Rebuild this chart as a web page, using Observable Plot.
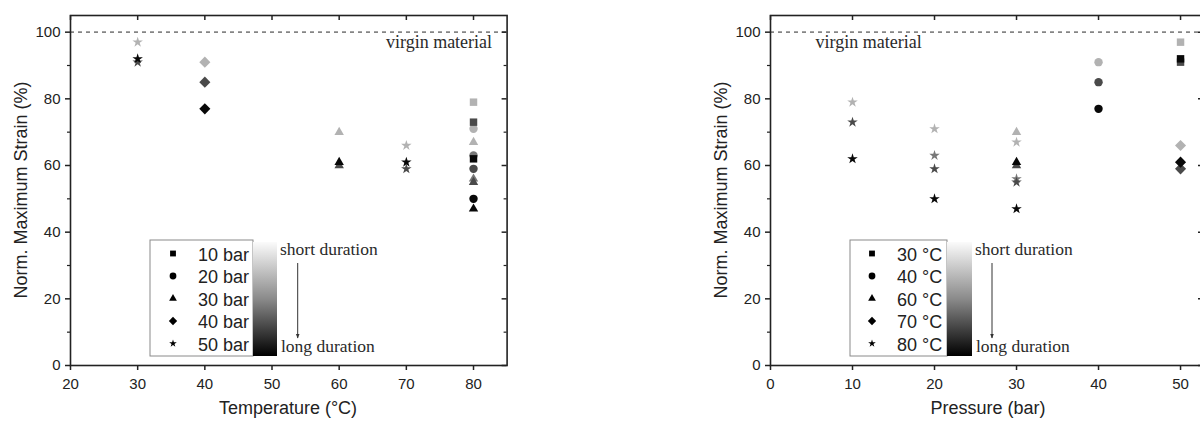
<!DOCTYPE html>
<html><head><meta charset="utf-8">
<script src="https://cdn.jsdelivr.net/npm/d3@7"></script>
<script src="https://cdn.jsdelivr.net/npm/@observablehq/plot@0.6"></script>
<style>
html,body{margin:0;padding:0;background:#fff;overflow:hidden;}
#wrap{position:relative;width:1200px;height:422px;overflow:hidden;background:#fff;}
.panel{position:absolute;top:0;}
#overlay{position:absolute;left:0;top:0;pointer-events:none;}
</style></head><body><div id="wrap"></div>
<script>
// ---- data (one row per specimen) ----
const temperature = [30,30,30, 40,40,40, 60,60,60, 70,70,70, 80,80,80, 80,80,80,80, 80,80,80,80];
const pressure    = [50,50,50, 40,40,40, 30,30,30, 50,50,50, 10,10,10, 20,20,20,20, 30,30,30,30];
const strain      = [97,92,91, 91,85,77, 70,61,60, 66,61,59, 79,73,62, 71,63,59,50, 67,56,55,47];
const duration    = [0,3,2,    0,2,3,    0,3,2,    0,3,2,    0,2,3,    0,1,2,3,     0,1,2,3];

// ---- categories / ticks ----
const pressureLevels = [10,20,30,40,50];
const pressureLabels = ["10 bar","20 bar","30 bar","40 bar","50 bar"];
const temperatureLevels = [30,40,60,70,80];
const temperatureLabels = ["30 °C","40 °C","60 °C","70 °C","80 °C"];
const symbolNames = ["square","circle","triangle","diamond2","star"];
const durationLevels = [0,1,2,3];
const durationGrays = ["#b2b2b2","#787878","#4a4a4a","#080808"];
const yMajor = [0,20,40,60,80,100];
const yMinor = [10,30,50,70,90];
const tempTicks = [20,30,40,50,60,70,80];
const presTicks = [0,10,20,30,40,50];

// marker styling (not data)
const symbolRadius = {square: 4.2, circle: 4.2, triangle: 3.5, diamond2: 5.0, star: 3.3};
const legendSymbolSize = {square: 34, circle: 36, triangle: 26, diamond2: 44, star: 18};

const rows = temperature.map((t,i)=>({T:t, P:pressure[i], S:strain[i], D:duration[i]}))
  .sort((a,b)=>a.D-b.D);

const wrap = document.getElementById("wrap");
const SANS = "'Liberation Sans', Arial, sans-serif";
const SERIF = "'Liberation Serif', 'Times New Roman', serif";
const INK = "#222";

function makePanel(o){
  const H = 422, mT = 15, mB = 57, mL = 70;
  const innerW = o.width - mL - o.marginRight, innerH = H - mT - mB;
  const symOf = v => symbolNames[o.symDomain.indexOf(v)];
  const chart = Plot.plot({
    width: o.width, height: H,
    marginLeft: mL, marginRight: o.marginRight, marginTop: mT, marginBottom: mB,
    style: {fontFamily: SANS, fontSize: "15px", color: INK, background: "transparent", overflow: "visible"},
    x: {domain: o.xDomain, label: null},
    y: {domain: [0,105], label: null},
    r: {type: "identity"},
    symbol: {domain: o.symDomain, range: symbolNames},
    color: {type: "ordinal", domain: durationLevels, range: durationGrays},
    marks: [
      Plot.ruleY([100], {stroke: "#858585", strokeWidth: 1.6, strokeDasharray: "4,4"}),
      Plot.text(["virgin material"], {x: o.virginX, y: 100, text: d=>d, textAnchor: o.virginAnchor,
        dx: o.virginDx, dy: 10, fontFamily: SERIF, fontSize: 18, fill: "#2a2a2a"}),
      Plot.dot(rows, {x: o.xKey, y: "S", symbol: o.symKey, fill: "D",
        r: d => symbolRadius[symOf(d[o.symKey])], stroke: "none"}),
      Plot.axisX({ticks: o.xTicks, tickSize: 5, tickPadding: 8, label: null, stroke: INK, strokeWidth: 1.5, fill: INK}),
      Plot.axisY({ticks: yMajor, tickSize: 5, tickPadding: 5, label: null, stroke: INK, strokeWidth: 1.5, fill: INK}),
      Plot.axisY({ticks: yMinor, tickSize: 3, tickFormat: () => "", label: null, stroke: INK, strokeWidth: 1.2}),
      Plot.tickY(yMajor, {y: d=>d, insetLeft: innerW - 5, stroke: INK, strokeWidth: 1.5}),
      Plot.tickY(yMinor, {y: d=>d, insetLeft: innerW - 3, stroke: INK, strokeWidth: 1.2}),
      Plot.tickX(o.xTicks, {x: d=>d, insetBottom: innerH - 5, stroke: INK, strokeWidth: 1.5}),
      Plot.frame({stroke: INK, strokeWidth: 1.6})
    ]
  });
  chart.classList.add("panel");
  chart.style.left = o.left + "px";
  wrap.appendChild(chart);
}

makePanel({left: 0, width: 520, marginRight: 13.4, xDomain: [20,85], xTicks: tempTicks,
  xKey: "T", symKey: "P", symDomain: pressureLevels,
  virginX: 85, virginAnchor: "end", virginDx: -15});
makePanel({left: 700, width: 520, marginRight: 17, xDomain: [0,52.8], xTicks: presTicks,
  xKey: "P", symKey: "T", symDomain: temperatureLevels,
  virginX: 0, virginAnchor: "start", virginDx: 45});

// ---- overlay: axis titles and legends ----
const svg = d3.select(wrap).append("svg").attr("id","overlay").attr("width",1200).attr("height",422);
const defs = svg.append("defs");
const grad = defs.append("linearGradient").attr("id","dur").attr("x1",0).attr("y1",0).attr("x2",0).attr("y2",1);
grad.append("stop").attr("offset","0%").attr("stop-color","#fbfbfb");
grad.append("stop").attr("offset","50%").attr("stop-color","#8a8a8a");
grad.append("stop").attr("offset","100%").attr("stop-color","#000");
const mk = defs.append("marker").attr("id","arr").attr("viewBox","0 0 10 10").attr("refX",9).attr("refY",5)
  .attr("markerWidth",5).attr("markerHeight",7).attr("orient","auto");
mk.append("path").attr("d","M0,1 L10,5 L0,9 Z").attr("fill","#333");

const symMap = {square: d3.symbolSquare, circle: d3.symbolCircle, triangle: d3.symbolTriangle, diamond2: d3.symbolDiamond2, star: d3.symbolStar};

function titles(xCenter, xTitle, yX){
  svg.append("text").attr("x",xCenter).attr("y",414).attr("text-anchor","middle")
    .attr("font-family",SANS).attr("font-size",18).attr("fill",INK).text(xTitle);
  svg.append("text").attr("transform",`translate(${yX},190) rotate(-90)`).attr("text-anchor","middle")
    .attr("dominant-baseline","central").attr("font-family",SANS).attr("font-size",18).attr("fill",INK)
    .text("Norm. Maximum Strain (%)");
}
titles(288, "Temperature (°C)", 21);
titles(988, "Pressure (bar)", 721);

function legend(o){
  const g = svg.append("g");
  g.append("rect").attr("x",o.bx).attr("y",240).attr("width",o.bw).attr("height",116)
    .attr("fill","#fff").attr("stroke","#8a8a8a").attr("stroke-width",1);
  g.append("rect").attr("x",o.bx+o.bw).attr("y",242).attr("width",o.gw).attr("height",114).attr("fill","url(#dur)");
  o.labels.forEach((lab,i)=>{
    const cy = 253.5 + i*22.5;
    const nm = symbolNames[i];
    g.append("path").attr("transform",`translate(${o.sx},${cy})`)
      .attr("d", d3.symbol(symMap[nm], legendSymbolSize[nm])()).attr("fill","#000");
    g.append("text").attr("x",o.tx).attr("y",cy+1).attr("dominant-baseline","central")
      .attr("font-family",SANS).attr("font-size",18).attr("fill",INK).text(lab);
  });
  const lx = o.bx + o.bw + o.gw + 3;
  g.append("text").attr("x",lx).attr("y",255).attr("font-family",SERIF).attr("font-size",17.5).attr("fill","#2a2a2a").text("short duration");
  g.append("text").attr("x",lx+1).attr("y",352).attr("font-family",SERIF).attr("font-size",17.5).attr("fill","#2a2a2a").text("long duration");
  g.append("line").attr("x1",o.ax).attr("x2",o.ax).attr("y1",263).attr("y2",338)
    .attr("stroke","#333").attr("stroke-width",1).attr("marker-end","url(#arr)");
}
legend({bx:150, bw:103, gw:24, sx:173, tx:198, ax:297.7, labels: pressureLabels});
legend({bx:850, bw:97, gw:25, sx:872, tx:897, ax:992, labels: temperatureLabels});
</script></body></html>
